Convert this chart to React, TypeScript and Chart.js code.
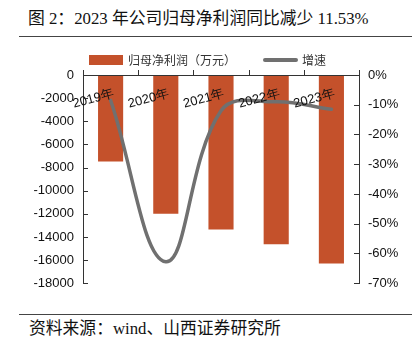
import React, { useEffect, useRef } from 'react';
import { Chart, registerables } from 'chart.js';

Chart.register(...registerables);

const categories = ['2019年', '2020年', '2021年', '2022年', '2023年'];
const profitValues = [-7480, -12000, -13350, -14630, -16290];
const growthValues = [-8.5, -62.8, -12, -9, -11.53];
const leftAxisMin = -18000;
const leftAxisMax = 0;
const leftAxisStep = 2000;
const rightAxisMin = -70;
const rightAxisMax = 0;
const rightAxisStep = 10;

const titleText = '图 2：2023 年公司归母净利润同比减少 11.53%';
const sourceText = '资料来源：wind、山西证券研究所';
const barLabel = '归母净利润（万元）';
const lineLabel = '增速';

const BAR_COLOR = '#C4512B';
const LINE_COLOR = '#707070';
const AXIS_COLOR = '#333333';
const TICK_FONT = "'Liberation Sans', Arial, sans-serif";
const CJK_FONT = "'Noto Sans CJK SC', sans-serif";

const axisTicksPlugin = {
  id: 'axisTicks',
  afterDraw(chart: any) {
    const { ctx, chartArea, scales } = chart;
    const { left, right, top } = chartArea;
    ctx.save();
    ctx.strokeStyle = AXIS_COLOR;
    ctx.lineWidth = 1;
    ctx.beginPath();
    const n = categories.length;
    for (let i = 0; i <= n; i++) {
      const x = Math.round(left + (i * (right - left)) / n) + 0.5;
      ctx.moveTo(x, top);
      ctx.lineTo(x, top - 5);
    }
    scales.y.ticks.forEach((t: any) => {
      const y = Math.round(scales.y.getPixelForValue(t.value)) + 0.5;
      ctx.moveTo(left, y);
      ctx.lineTo(left + 5, y);
    });
    scales.y1.ticks.forEach((t: any) => {
      const y = Math.round(scales.y1.getPixelForValue(t.value)) + 0.5;
      ctx.moveTo(right, y);
      ctx.lineTo(right - 5, y);
    });
    ctx.stroke();
    ctx.restore();
  },
};

function ComboChart() {
  const ref = useRef<HTMLCanvasElement | null>(null);
  useEffect(() => {
    if (!ref.current) return;
    const chart = new Chart(ref.current, {
      data: {
        labels: categories,
        datasets: [
          {
            type: 'line',
            label: lineLabel,
            data: growthValues,
            yAxisID: 'y1',
            borderColor: LINE_COLOR,
            backgroundColor: LINE_COLOR,
            borderWidth: 3.5,
            borderCapStyle: 'round',
            tension: 0.4,
            pointRadius: 0,
            order: 0,
          } as any,
          {
            type: 'bar',
            label: barLabel,
            data: profitValues,
            yAxisID: 'y',
            backgroundColor: BAR_COLOR,
            categoryPercentage: 1,
            barPercentage: 0.455,
            order: 1,
          } as any,
        ],
      },
      options: {
        responsive: false,
        animation: false,
        layout: { padding: { top: 35, bottom: 15, left: 0, right: 0 } },
        plugins: { legend: { display: false }, tooltip: { enabled: false } },
        scales: {
          x: {
            position: { y: 0 } as any,
            offset: true,
            afterFit: (s: any) => {
              s.height = 0;
            },
            grid: { display: true, drawOnChartArea: false, drawTicks: false },
            border: { display: true, color: AXIS_COLOR, width: 1, z: 1 },
            ticks: {
              z: 1,
              autoSkip: false,
              minRotation: 15,
              maxRotation: 15,
              padding: 11,
              labelOffset: 3,
              color: '#111',
              font: { family: TICK_FONT, size: 13 },
            },
          } as any,
          y: {
            position: 'left',
            min: leftAxisMin,
            max: leftAxisMax,
            afterFit: (s: any) => {
              s.width = 83;
            },
            grid: { display: true, drawOnChartArea: false, drawTicks: false },
            border: { display: true, color: AXIS_COLOR, width: 1 },
            ticks: {
              stepSize: leftAxisStep,
              padding: 9,
              color: '#111',
              font: { family: TICK_FONT, size: 13 },
              callback: (v: any) => String(v),
            },
          },
          y1: {
            position: 'right',
            min: rightAxisMin,
            max: rightAxisMax,
            afterFit: (s: any) => {
              s.width = 58;
            },
            grid: { display: true, drawOnChartArea: false, drawTicks: false },
            border: { display: true, color: AXIS_COLOR, width: 1 },
            ticks: {
              stepSize: rightAxisStep,
              padding: 9,
              color: '#111',
              font: { family: TICK_FONT, size: 13 },
              callback: (v: any) => `${v}%`,
            },
          },
        },
      },
      plugins: [axisTicksPlugin],
    });
    return () => chart.destroy();
  }, []);
  return (
    <canvas
      ref={ref}
      width={417}
      height={260}
      style={{ position: 'absolute', left: 0, top: 40, width: 417, height: 260, display: 'block' }}
    />
  );
}

export default function App() {
  return (
    <div
      style={{
        position: 'absolute',
        left: 0,
        top: 0,
        width: 417,
        height: 351,
        background: '#fff',
        overflow: 'hidden',
      }}
    >
      <div
        style={{
          position: 'absolute',
          left: 28,
          top: 9,
          fontFamily: `'Liberation Serif', ${CJK_FONT}`,
          fontSize: 16.8,
          lineHeight: '20px',
          color: '#111',
          whiteSpace: 'nowrap',
        }}
      >
        {titleText}
      </div>
      <div style={{ position: 'absolute', left: 19, top: 36, width: 393, height: 1, background: '#444' }} />
      <ComboChart />
      <div style={{ position: 'absolute', left: 89, top: 55, width: 34, height: 10, background: BAR_COLOR }} />
      <div
        style={{
          position: 'absolute',
          left: 128,
          top: 53,
          fontFamily: CJK_FONT,
          fontSize: 12,
          lineHeight: '14px',
          color: '#333',
          whiteSpace: 'nowrap',
        }}
      >
        {barLabel}
      </div>
      <div
        style={{ position: 'absolute', left: 263, top: 58, width: 35, height: 4, borderRadius: 2, background: LINE_COLOR }}
      />
      <div
        style={{
          position: 'absolute',
          left: 302,
          top: 53,
          fontFamily: CJK_FONT,
          fontSize: 12,
          lineHeight: '14px',
          color: '#333',
          whiteSpace: 'nowrap',
        }}
      >
        {lineLabel}
      </div>
      <div style={{ position: 'absolute', left: 19, top: 314, width: 393, height: 1, background: '#444' }} />
      <div
        style={{
          position: 'absolute',
          left: 29,
          top: 319,
          fontFamily: `'Liberation Serif', ${CJK_FONT}`,
          fontSize: 16.8,
          lineHeight: '20px',
          color: '#111',
          whiteSpace: 'nowrap',
        }}
      >
        {sourceText}
      </div>
    </div>
  );
}
